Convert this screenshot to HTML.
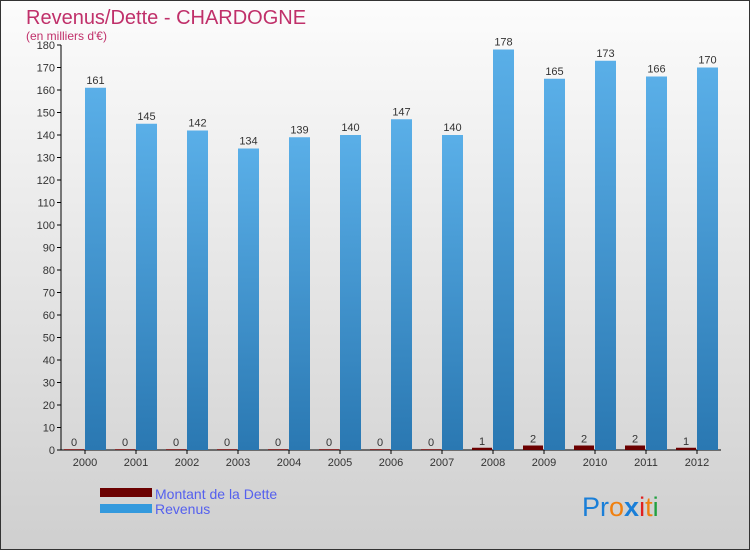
<!DOCTYPE html>
<html><head><meta charset="utf-8"><style>
body{margin:0}
svg text{font-family:"Liberation Sans",sans-serif}
</style></head><body>
<svg width="750" height="550" xmlns="http://www.w3.org/2000/svg">
<defs>
<linearGradient id="bg" x1="0" y1="0" x2="0" y2="1"><stop offset="0" stop-color="#fcfcfc"/><stop offset="1" stop-color="#cfcfcf"/></linearGradient>
<linearGradient id="rev" x1="0" y1="0" x2="0" y2="1"><stop offset="0" stop-color="#5aafe8"/><stop offset="1" stop-color="#2a78b2"/></linearGradient>
</defs>
<rect x="0.5" y="0.5" width="749" height="549" fill="url(#bg)" stroke="#333"/>
<text x="26" y="24" font-size="20" fill="#c0306a">Revenus/Dette - CHARDOGNE</text>
<text x="26" y="40" font-size="12" fill="#c0306a">(en milliers d'€)</text>
<g id="axes"></g>
<g id="bars"></g>
<rect x="100" y="488" width="52" height="9" fill="#6b0000"/>
<text x="155" y="499" font-size="14" fill="#5560ee">Montant de la Dette</text>
<rect x="100" y="504" width="52" height="9" fill="#3399dd"/>
<text x="155" y="514" font-size="14" fill="#5560ee">Revenus</text>
<text x="582" y="516" font-size="27"><tspan fill="#1a7fd8">Pr</tspan><tspan fill="#f08010">o</tspan><tspan fill="#1a7fd8" font-weight="bold">x</tspan><tspan fill="#e02020">i</tspan><tspan fill="#f08010">t</tspan><tspan fill="#20a040">i</tspan></text>
</svg>
<script>
const years=["2000","2001","2002","2003","2004","2005","2006","2007","2008","2009","2010","2011","2012"];
const dette=[0,0,0,0,0,0,0,0,1,2,2,2,1];
const revenus=[161,145,142,134,139,140,147,140,178,165,173,166,170];
const yTicks=[0,10,20,30,40,50,60,70,80,90,100,110,120,130,140,150,160,170,180];
const NS="http://www.w3.org/2000/svg";
const y0=450,yTop=45,yMax=180;
function ys(v){return y0-(v/yMax)*(y0-yTop);}
function xs(i){return 64+51*i;}
function mk(tag,attrs,parent){const e=document.createElementNS(NS,tag);for(const k in attrs)e.setAttribute(k,attrs[k]);parent.appendChild(e);return e;}
const ax=document.getElementById('axes'),bars=document.getElementById('bars');
yTicks.forEach(t=>{
 const l=mk('line',{x1:57,x2:61,y1:ys(t),y2:ys(t),stroke:'#000'},ax);
 
 
 const tx=mk('text',{x:55,y:ys(t)+4,'font-size':11,fill:'#333','text-anchor':'end'},ax);
 tx.textContent=t;
 
 
});
const ya=mk('line',{x1:61,x2:61,y1:yTop,y2:y0,stroke:'#000'},ax);


const xa=mk('line',{x1:61,x2:721,y1:y0,y2:y0,stroke:'#000'},ax);


years.forEach((yr,i)=>{
 const x=xs(i);
 const tk=mk('line',{x1:x+21,x2:x+21,y1:y0,y2:y0+4,stroke:'#000'},ax);
 
 
 const lb=mk('text',{x:x+21,y:466,'font-size':11,fill:'#333','text-anchor':'middle'},ax);
 lb.textContent=yr;
 
 
 const dh=Math.max(y0-ys(dette[i]),1);
 const d=mk('rect',{x:x,y:y0-dh,width:20,height:dh,fill:dette[i]>0?'#6b0000':'#8b3030'},bars);
 
 
 const dl=mk('text',{x:x+10,y:y0-dh-3,'font-size':11,fill:'#333','text-anchor':'middle'},bars);
 dl.textContent=dette[i];
 
 
 const r=mk('rect',{x:x+21,y:ys(revenus[i]),width:21,height:y0-ys(revenus[i]),fill:'url(#rev)'},bars);
 
 
 const rl=mk('text',{x:x+31.5,y:ys(revenus[i])-4,'font-size':11,fill:'#333','text-anchor':'middle'},bars);
 rl.textContent=revenus[i];
 
 
});
</script>
</body></html>
